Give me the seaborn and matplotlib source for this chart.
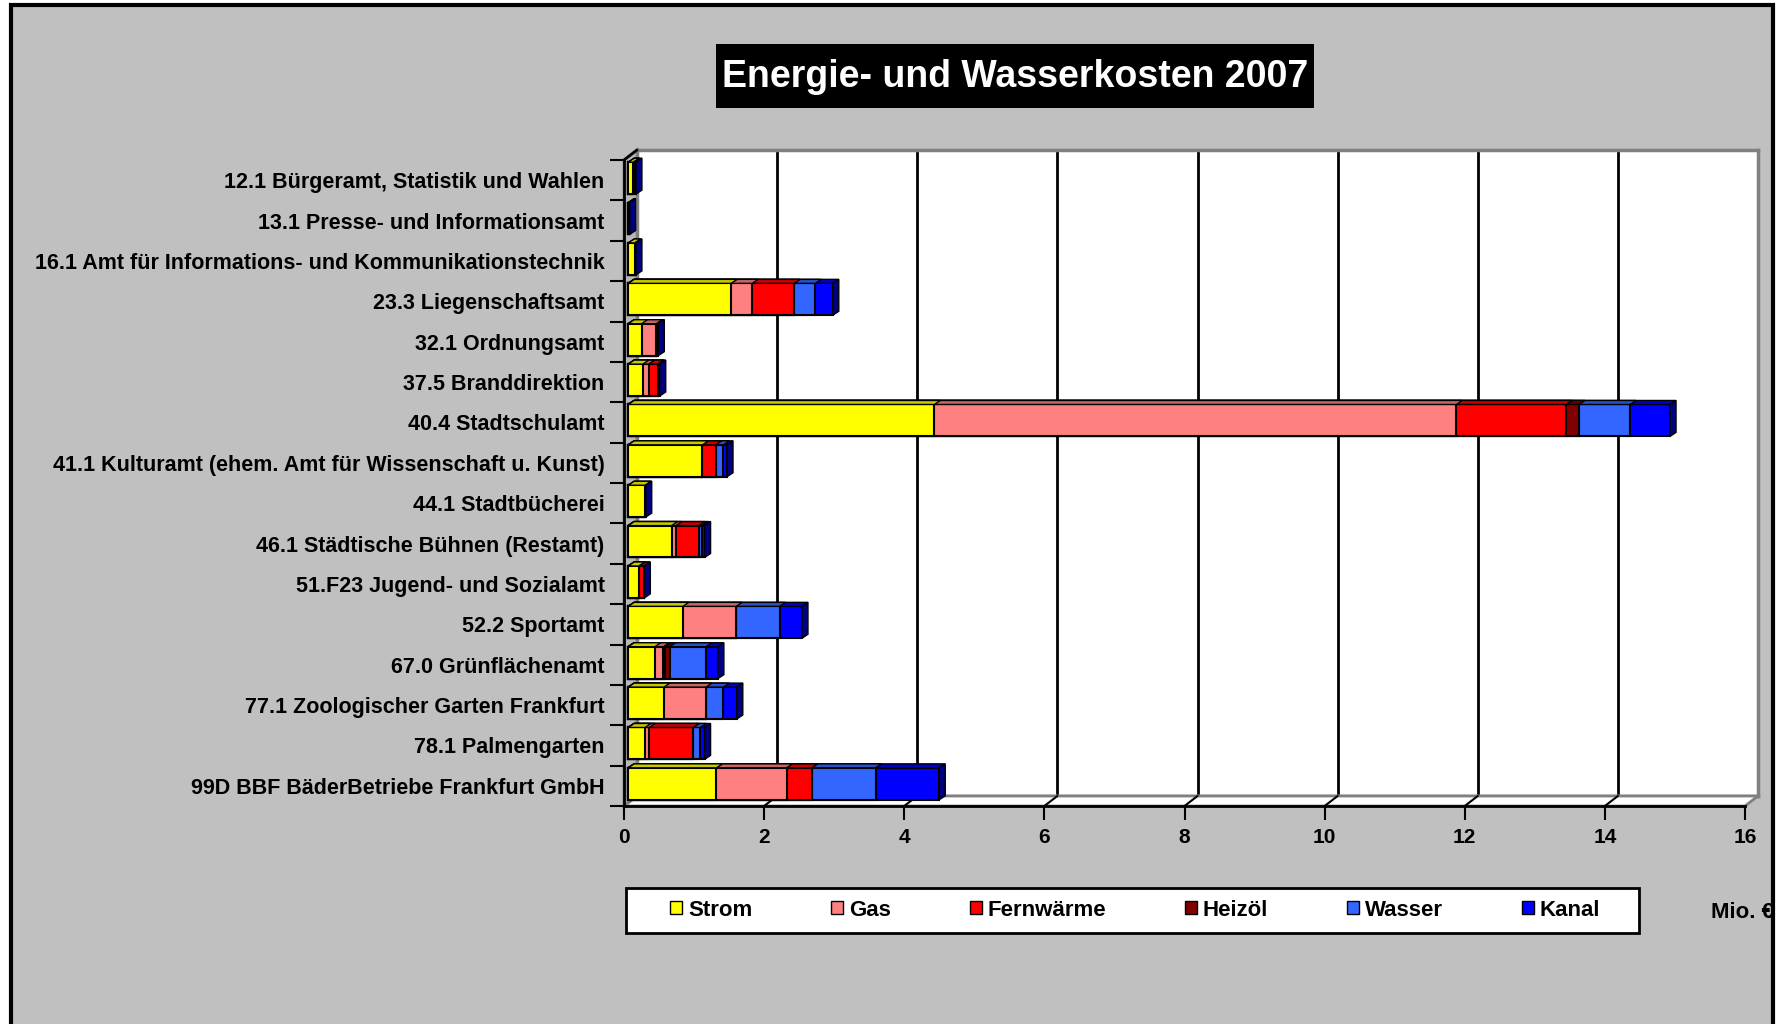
import numpy as np
import pandas as pd
import seaborn as sns
import matplotlib.pyplot as plt
from matplotlib.patches import Rectangle, Polygon, Patch
from matplotlib.lines import Line2D

# --- Data (Mio. EUR) ---
AEMTER = [
    "12.1 Bürgeramt, Statistik und Wahlen",
    "13.1 Presse- und Informationsamt",
    "16.1 Amt für Informations- und Kommunikationstechnik",
    "23.3 Liegenschaftsamt",
    "32.1 Ordnungsamt",
    "37.5 Branddirektion",
    "40.4 Stadtschulamt",
    "41.1 Kulturamt (ehem. Amt für Wissenschaft u. Kunst)",
    "44.1 Stadtbücherei",
    "46.1 Städtische Bühnen (Restamt)",
    "51.F23 Jugend- und Sozialamt",
    "52.2 Sportamt",
    "67.0 Grünflächenamt",
    "77.1 Zoologischer Garten Frankfurt",
    "78.1 Palmengarten",
    "99D BBF BäderBetriebe Frankfurt GmbH",
]
strom      = [0.07, 0.01, 0.09, 1.47, 0.19, 0.21, 4.37, 1.06, 0.24, 0.62, 0.15, 0.78, 0.38, 0.51, 0.24, 1.26]
gas        = [0.00, 0.00, 0.00, 0.30, 0.21, 0.08, 7.45, 0.00, 0.00, 0.06, 0.01, 0.76, 0.12, 0.60, 0.06, 1.00]
fernwaerme = [0.00, 0.00, 0.00, 0.60, 0.00, 0.13, 1.57, 0.19, 0.00, 0.33, 0.06, 0.00, 0.03, 0.00, 0.63, 0.36]
heizoel    = [0.00, 0.00, 0.00, 0.00, 0.00, 0.00, 0.18, 0.00, 0.00, 0.00, 0.00, 0.00, 0.06, 0.00, 0.00, 0.00]
wasser     = [0.01, 0.00, 0.00, 0.30, 0.01, 0.01, 0.73, 0.11, 0.00, 0.04, 0.00, 0.62, 0.52, 0.25, 0.10, 0.91]
kanal      = [0.03, 0.01, 0.02, 0.25, 0.02, 0.02, 0.57, 0.05, 0.01, 0.04, 0.01, 0.32, 0.17, 0.19, 0.06, 0.91]

SERIES = ["Strom", "Gas", "Fernwärme", "Heizöl", "Wasser", "Kanal"]
VALUES = [strom, gas, fernwaerme, heizoel, wasser, kanal]
FRONT = ["#FFFF00", "#FF8080", "#FF0000", "#800000", "#3366FF", "#0000FF"]
TOP = ["#C8C800", "#C86464", "#C80000", "#600000", "#2850C8", "#0000C8"]
SIDE = "#000080"
XTICKS = [0, 2, 4, 6, 8, 10, 12, 14, 16]

W, H = 1781, 1024
FONT = ["Liberation Sans", "DejaVu Sans"]


def fx(px):
    return px / W


def fy(py):
    return 1 - py / H


sns.set_style("white")
plt.rcParams["font.family"] = FONT
plt.rcParams["font.weight"] = "bold"
plt.rcParams["text.color"] = "black"
plt.rcParams["xtick.color"] = "black"
plt.rcParams["ytick.color"] = "black"

fig = plt.figure(figsize=(W / 100, H / 100), dpi=100)
fig.patch.set_facecolor("white")

# grey chart area with black frame
bg = Rectangle((fx(11), fy(1040)), fx(1773) - fx(11), fy(5) - fy(1040),
               transform=fig.transFigure, facecolor="#C0C0C0", edgecolor="none", zorder=-10)
fig.add_artist(bg)
frame = Rectangle((fx(11), fy(1040)), fx(1773) - fx(11), fy(5) - fy(1040),
                  transform=fig.transFigure, facecolor="none", edgecolor="black", lw=3, zorder=20)
fig.add_artist(frame)

# front plane and back wall (3D look)
FL, FT, FR, FB = 624, 160, 1745, 806
DX, DY = 13, 10
wall = fig.add_axes([fx(FL + DX), fy(FB - DY), fx(FR) - fx(FL), fy(FT) - fy(FB)])
wall.set_zorder(-3)
wall.set_facecolor("white")
wall.set_xlim(0, 16)
wall.set_ylim(0, 1)
wall.set_xticks([])
wall.set_yticks([])
for x in XTICKS[1:-1]:
    wall.axvline(x, color="black", lw=2)
for s in wall.spines.values():
    s.set_color("#808080")
    s.set_linewidth(2.5)

floor = Polygon([(fx(FL), fy(FB)), (fx(FR), fy(FB)), (fx(FR + DX), fy(FB - DY)), (fx(FL + DX), fy(FB - DY))],
                closed=True, transform=fig.transFigure, facecolor="white", edgecolor="#808080", lw=2, zorder=-2)
fig.add_artist(floor)
side = Polygon([(fx(FL), fy(FB)), (fx(FL), fy(FT)), (fx(FL + DX), fy(FT - DY)), (fx(FL + DX), fy(FB - DY))],
               closed=True, transform=fig.transFigure, facecolor="#B8B8B8", edgecolor="#808080", lw=2, zorder=-2)
fig.add_artist(side)
fig.add_artist(Line2D([fx(FL), fx(FL + DX)], [fy(FT), fy(FT - DY)], transform=fig.transFigure,
                      color="black", lw=2, zorder=-1))

ax = fig.add_axes([fx(FL), fy(FB), fx(FR) - fx(FL), fy(FT) - fy(FB)])
ax.patch.set_alpha(0)

# stacked bars: draw cumulative totals from the outermost series inwards
cum = np.cumsum(np.array(VALUES), axis=0)
BAR_W = 0.79
SHIFT_X, SHIFT_Y = 0.06, 0.05
dxb, dyb = 6 / 70.05, 4 / 40.4
for k in range(len(SERIES) - 1, -1, -1):
    df = pd.DataFrame({"Amt": AEMTER, "cum": cum[k]})
    n0 = len(ax.patches)
    sns.barplot(data=df, x="cum", y="Amt", order=AEMTER, orient="h", color=FRONT[k],
                saturation=1, width=BAR_W, errorbar=None, edgecolor="black", linewidth=1.5, ax=ax)
    bars = ax.patches[n0:]
    for i, p in enumerate(bars):
        p.set_x(p.get_x() + SHIFT_X)
        p.set_y(p.get_y() - SHIFT_Y)
        x0, y0, w, h = p.get_x(), p.get_y(), p.get_width(), p.get_height()
        seg = VALUES[k][i]
        if seg <= 0:
            continue
        x1 = x0 + w
        ax.add_patch(Polygon([(x0, y0), (x1, y0), (x1 + dxb, y0 - dyb), (x0 + dxb, y0 - dyb)],
                             closed=True, facecolor=TOP[k], edgecolor="black", lw=1, clip_on=False))
        if k == len(SERIES) - 1:
            ax.add_patch(Polygon([(x1, y0), (x1 + dxb, y0 - dyb), (x1 + dxb, y0 + h - dyb), (x1, y0 + h)],
                                 closed=True, facecolor=SIDE, edgecolor="black", lw=1, clip_on=False))

ax.set_xlim(0, 16)
ax.set_ylim(len(AEMTER) - 0.5, -0.5)
ax.set_xlabel("")
ax.set_ylabel("")
ax.set_xticks(XTICKS)
ax.set_xticklabels([str(t) for t in XTICKS], fontsize=15, fontweight="bold", color="black")
ax.set_yticks(range(len(AEMTER)))
ax.set_yticklabels(AEMTER, fontsize=15.5, fontweight="bold", color="black")
ax.set_yticks(np.arange(-0.5, len(AEMTER)), minor=True)
ax.tick_params(axis="y", which="major", length=0, pad=14)
ax.tick_params(axis="y", which="minor", length=10, width=1.5, color="black", direction="out", left=True)
ax.tick_params(axis="x", which="major", length=10, width=1.5, color="black", direction="out", bottom=True, pad=6)
for name in ["top", "right"]:
    ax.spines[name].set_visible(False)
for name in ["left", "bottom"]:
    ax.spines[name].set_color("black")
    ax.spines[name].set_linewidth(2)

# diagonal floor lines at every x tick
for t in XTICKS[1:-1]:
    xa = ax.transData.transform((t, 0))[0] / W
    xb = wall.transData.transform((t, 0))[0] / W
    fig.add_artist(Line2D([xa, xb], [fy(FB), fy(FB - DY)], transform=fig.transFigure,
                          color="black", lw=1.5, zorder=-1))

# title
fig.add_artist(Rectangle((fx(716), fy(108)), fx(1314) - fx(716), fy(44) - fy(108),
                         transform=fig.transFigure, facecolor="black", edgecolor="none", zorder=2))
fig.text(fx(1015), fy(77), "Energie- und Wasserkosten 2007", color="white", fontsize=27,
         fontweight="bold", ha="center", va="center", zorder=3)

# legend
fig.add_artist(Rectangle((fx(626), fy(933)), fx(1639) - fx(626), fy(888) - fy(933),
                         transform=fig.transFigure, facecolor="white", edgecolor="black", lw=2, zorder=4))
handles = [Patch(facecolor=c, edgecolor="black", lw=1) for c in FRONT]
leg = fig.legend(handles, SERIES, loc="center", bbox_to_anchor=(fx(1135), fy(910)), ncol=6,
                 frameon=False, handlelength=0.55, handleheight=0.55,
                 handletextpad=0.25, columnspacing=3.55, prop={"weight": "bold", "size": 16})
leg.set_zorder(5)
for t in leg.get_texts():
    t.set_color("black")

unit = fig.text(fx(1711), fy(912), "Mio. €", fontsize=16, fontweight="bold", ha="left", va="center",
                color="black")
unit.set_clip_path(bg)

fig.savefig("out.png", dpi=100)
